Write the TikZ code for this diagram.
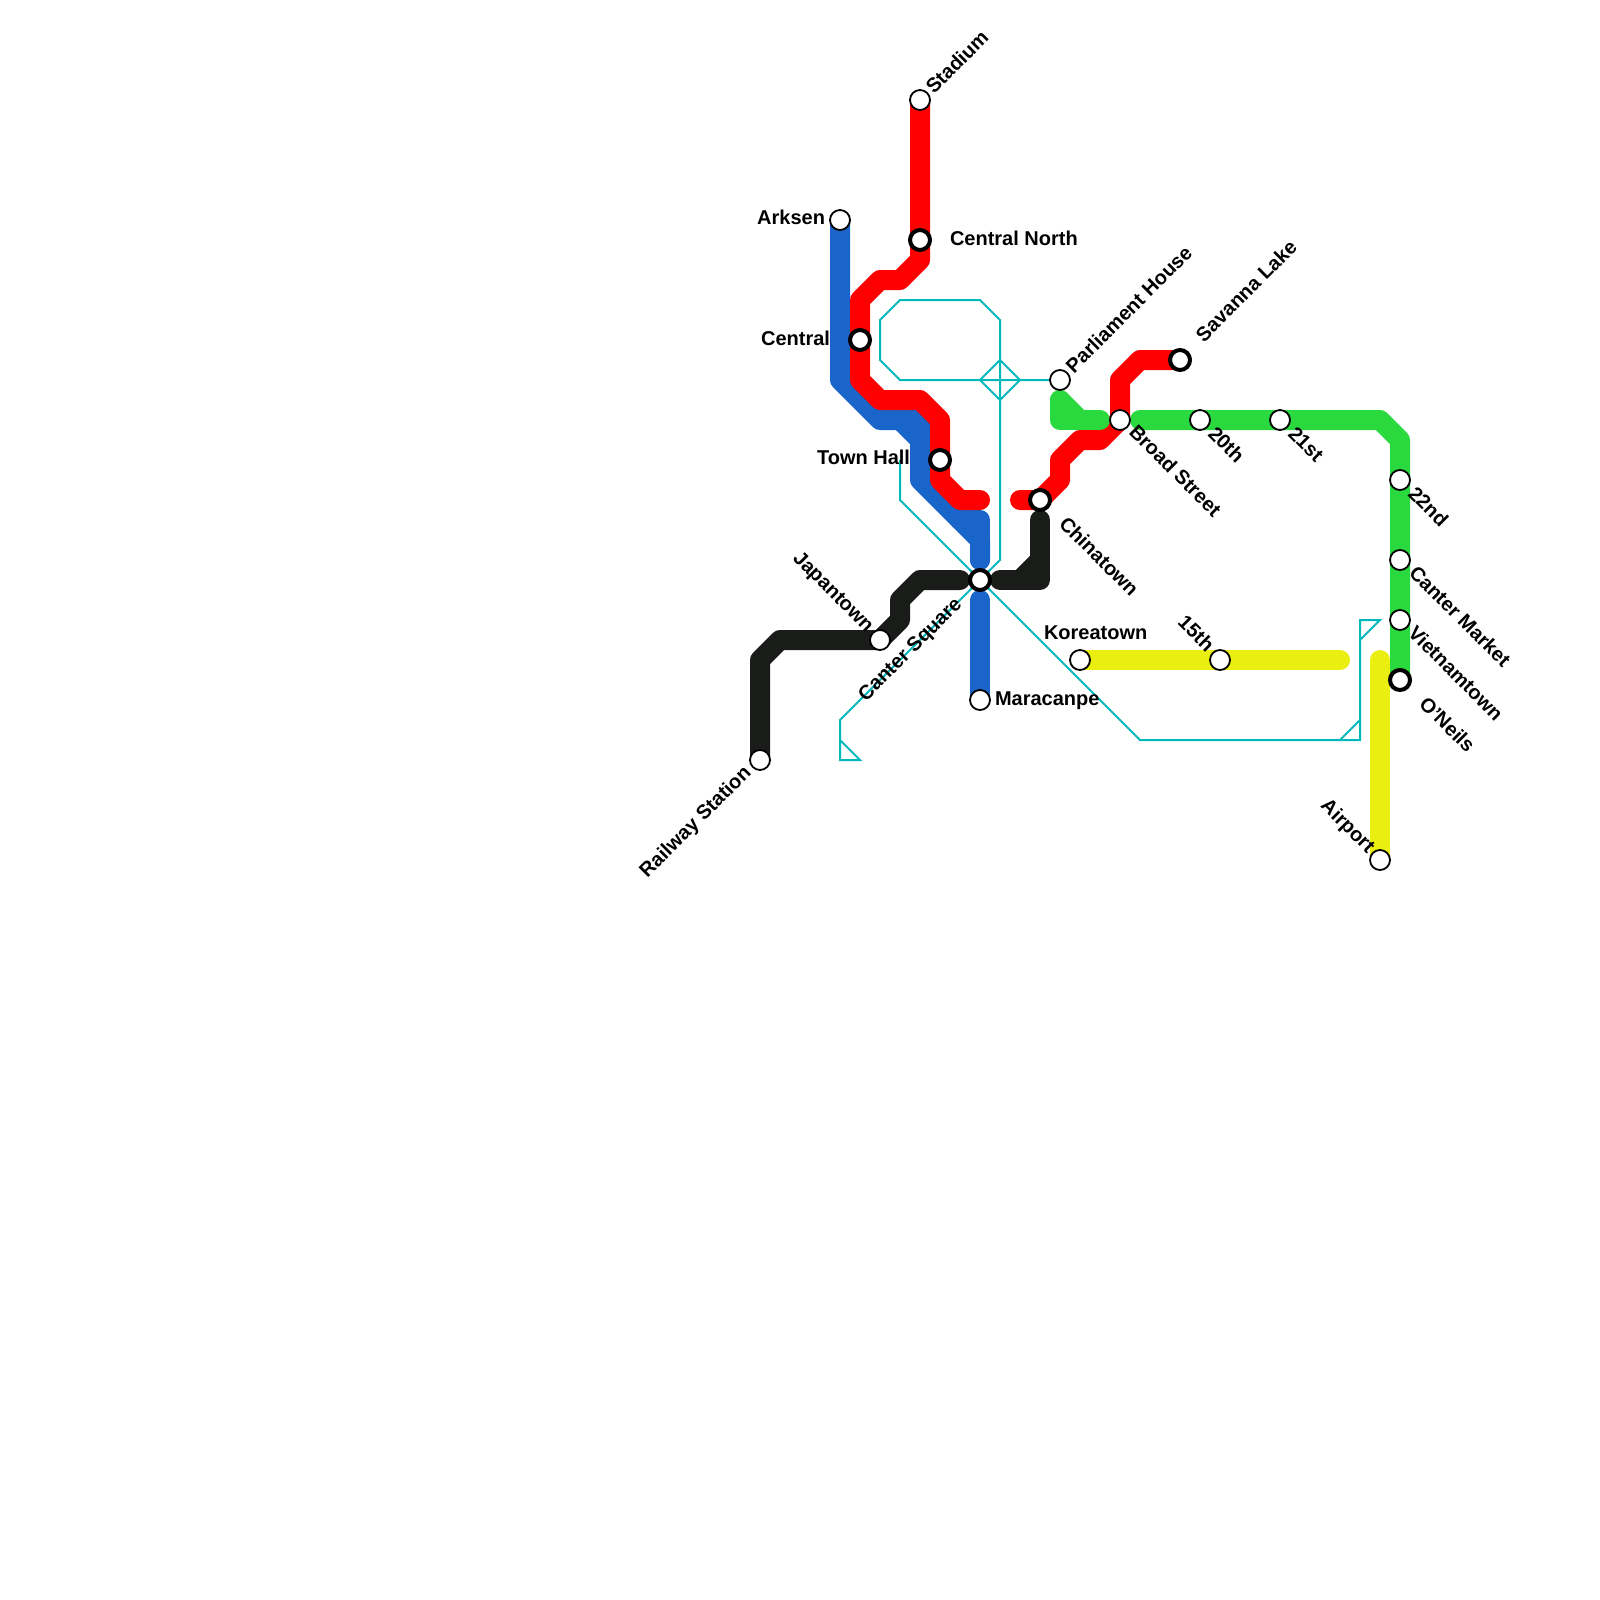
\documentclass[tikz,border=0pt]{standalone}
\usepackage{fontspec}
\setmainfont{Liberation Sans}
\usetikzlibrary{backgrounds}
\definecolor{lred}{HTML}{FF0000}
\definecolor{lblue}{HTML}{1965C9}
\definecolor{lgreen}{HTML}{2AD93D}
\definecolor{lyellow}{HTML}{EBEF10}
\definecolor{lblack}{HTML}{1A1C1A}
\definecolor{lteal}{HTML}{00B9BD}
\tikzset{
  metro/.style={line width=20pt,line cap=round,line join=round},
  thinline/.style={line width=2pt,draw=lteal,line cap=butt,line join=miter},
  stop/.style={circle,draw=black,fill=white,line width=1.8pt,minimum size=20pt,inner sep=0pt,outer sep=0pt},
  hub/.style={circle,draw=black,fill=white,line width=4pt,minimum size=20pt,inner sep=0pt,outer sep=0pt},
  lab/.style={inner sep=0pt,outer sep=0pt,text=black,font=\fontsize{20}{24}\selectfont\bfseries},
}
\begin{document}
\begin{tikzpicture}[x=1pt,y=-1pt]
\useasboundingbox (0,0) rectangle (1600,1600);
% stations
\node[stop] (stadium) at (920,100) {};
\node[hub] (cnorth) at (920,240) {};
\node[stop] (arksen) at (840,220) {};
\node[hub] (central) at (860,340) {};
\node[hub] (townhall) at (940,460) {};
\node[stop] (parliament) at (1060,380) {};
\node[stop] (broad) at (1120,420) {};
\node[hub] (savanna) at (1180,360) {};
\node[stop] (twentieth) at (1200,420) {};
\node[stop] (twentyfirst) at (1280,420) {};
\node[stop] (twentysecond) at (1400,480) {};
\node[stop] (cantermarket) at (1400,560) {};
\node[stop] (vietnam) at (1400,620) {};
\node[hub] (oneils) at (1400,680) {};
\node[hub] (china) at (1040,500) {};
\node[hub] (cantersq) at (980,580) {};
\node[stop] (japan) at (880,640) {};
\node[stop] (maracanpe) at (980,700) {};
\node[stop] (railway) at (760,760) {};
\node[stop] (korea) at (1080,660) {};
\node[stop] (fifteenth) at (1220,660) {};
\node[stop] (airport) at (1380,860) {};
% free ends
\coordinate (redA) at (980,500);
\coordinate (redB) at (1020,500);
\coordinate (blueA) at (980,560);
\coordinate (blueB) at (980,600);
\coordinate (blackA) at (960,580);
\coordinate (blackB) at (1000,580);
\coordinate (blackC) at (1040,520);
\coordinate (greenA) at (1060,400);
\coordinate (greenB) at (1100,420);
\coordinate (greenC) at (1140,420);
\coordinate (yellowA) at (1340,660);
\coordinate (yellowB) at (1380,660);
\coordinate (tealA) at (900,460);
\begin{scope}[on background layer]
  \fill[white] (0,0) rectangle (1600,1600);
  % thin line
  \draw[thinline] (parliament.center) -- (900,380) -- (880,360) -- (880,320) -- (900,300) -- (980,300) -- (1000,320) -- (1000,560) -- (cantersq.center);
  \draw[thinline] (980,380) -- (1000,360) -- (1020,380) -- (1000,400) -- cycle;
  \draw[thinline] (tealA) -- (900,500) -- (cantersq.center) -- (1140,740) -- (1360,740) -- (1360,620) -- (1380,620) -- (1360,640);
  \draw[thinline] (1340,740) -- (1360,720);
  \draw[thinline] (cantersq.center) -- (840,720) -- (840,760) -- (860,760) -- (840,740);
  % blue
  \draw[metro,lblue] (arksen.center) -- (840,380) -- (880,420) -- (920,420) -- (920,480) -- (980,540) -- (blueA);
  \draw[metro,lblue] (900,420) -- (920,440);
  \draw[metro,lblue] (960,520) -- (980,520) -- (blueA);
  \draw[metro,lblue] (blueB) -- (maracanpe.center);
  % red
  \draw[metro,lred] (stadium.center) -- (920,260) -- (900,280) -- (880,280) -- (860,300) -- (860,380) -- (880,400) -- (920,400) -- (940,420) -- (940,480) -- (960,500) -- (redA);
  % red 2
  \draw[metro,lred] (redB) -- (china.center) -- (1060,480) -- (1060,460) -- (1080,440) -- (1100,440) -- (broad.center) -- (1120,380) -- (1140,360) -- (savanna.center);
  % green
  \draw[metro,lgreen] (greenA) -- (1060,420) -- (greenB);
  \draw[metro,lgreen] (greenA) -- (1080,420);
  \draw[metro,lgreen] (greenC) -- (1380,420) -- (1400,440) -- (oneils.center);
  % black
  \draw[metro,lblack] (railway.center) -- (760,660) -- (780,640) -- (japan.center) -- (900,620) -- (900,600) -- (920,580) -- (blackA);
  \draw[metro,lblack] (blackB) -- (1040,580) -- (blackC);
  \draw[metro,lblack] (1020,580) -- (1040,560);
  % yellow
  \draw[metro,lyellow] (korea.center) -- (yellowA);
  \draw[metro,lyellow] (yellowB) -- (airport.center);
\end{scope}
% labels
\node[lab,anchor=base west] (lcn) at (950,245) {Central North};
\node[lab,anchor=base east] (lar) at (825,224) {Arksen};
\node[lab,anchor=base east] (lce) at (830,345) {Central};
\node[lab,anchor=base east] (lth) at (910,464) {Town Hall};
\node[lab,anchor=base west] (lma) at (995,705) {Maracanpe};
\node[lab,anchor=base west] (lko) at (1044,639) {Koreatown};
\node[lab,anchor=base west,rotate=45] (lst) at (934,95) {Stadium};
\node[lab,anchor=base west,rotate=45] (lpa) at (1074,374) {Parliament House};
\node[lab,anchor=base west,rotate=45] (lsa) at (1204,343) {Savanna Lake};
\node[lab,anchor=base west,rotate=45] (lcs) at (866,702) {Canter Square};
\node[lab,anchor=base east,rotate=45] (lra) at (752,774) {Railway Station};
\node[lab,anchor=base east,rotate=-45] (lja) at (866,633) {Japantown};
\node[lab,anchor=base east,rotate=-45] (lfi) at (1206,653) {15th};
\node[lab,anchor=base east,rotate=-45] (lai) at (1367,854) {Airport};
\node[lab,anchor=base west,rotate=-45] (lbr) at (1128,433) {Broad Street};
\node[lab,anchor=base west,rotate=-45] (lch) at (1058,525) {Chinatown};
\node[lab,anchor=base west,rotate=-45] (l20) at (1207,435) {20th};
\node[lab,anchor=base west,rotate=-45] (l21) at (1287,435) {21st};
\node[lab,anchor=base west,rotate=-45] (l22) at (1407,495) {22nd};
\node[lab,anchor=base west,rotate=-45] (lcm) at (1408,574) {Canter Market};
\node[lab,anchor=base west,rotate=-45] (lvi) at (1407,634) {Vietnamtown};
\node[lab,anchor=base west,rotate=-45] (lon) at (1418,705) {O'Neils};
\end{tikzpicture}
\end{document}
